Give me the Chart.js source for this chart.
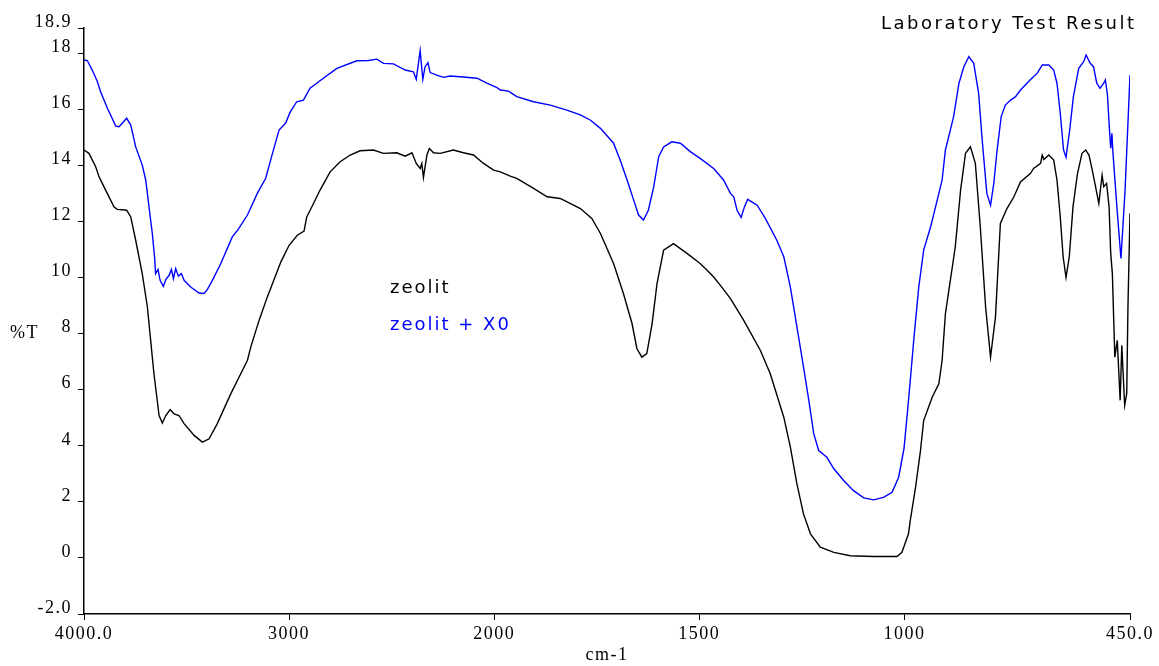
<!DOCTYPE html>
<html>
<head>
<meta charset="utf-8">
<title>Laboratory Test Result</title>
<script src="https://cdn.jsdelivr.net/npm/chart.js@4.4.0/dist/chart.umd.min.js"></script>
<style>
  html, body { margin: 0; padding: 0; background: #fff; }
  canvas { display: block; }
</style>
</head>
<body>
<canvas id="irChart" width="1159" height="666"></canvas>
<script>
// zeolit (black)
const zeolitWn = [4000,3976,3943,3927,3911,3854,3838,3792,3772,3748,
  3716,3691,3675,3659,3645,3634,3618,3601,3580,3561,
  3537,3512,3463,3423,3390,3350,3284,3252,3203,3187,
  3146,3106,3040,3000,2960,2927,2914,2881,2849,2800,
  2751,2702,2654,2589,2540,2475,2434,2401,2380,2361,
  2353,2345,2328,2316,2296,2263,2199,2150,2101,2052,
  2003,1985,1961,1945,1904,1871,1839,1790,1762,1741,
  1709,1685,1664,1652,1640,1628,1615,1603,1587,1563,
  1530,1498,1481,1465,1449,1424,1392,1351,1327,1294,
  1278,1262,1246,1229,1205,1172,1132,1075,1018,1006,
  990,986,973,961,953,932,916,908,900,888,
  876,863,851,839,827,815,802,790,778,766,
  750,733,717,693,685,668,664,660,648,636,
  628,620,613,606,598,589,578,567,558,550,
  542,534,526,518,514,507,501,497,493,487,
  481,474,470,463,458,455,450];
const zeolitT = [14.55,14.43,13.95,13.6,13.36,12.52,12.43,12.4,12.16,11.33,
  10.14,8.95,7.76,6.57,5.74,5.08,4.81,5.08,5.29,5.14,
  5.08,4.79,4.37,4.13,4.25,4.79,5.86,6.33,7.05,7.52,
  8.48,9.31,10.56,11.15,11.51,11.66,12.16,12.64,13.12,13.77,
  14.13,14.37,14.52,14.55,14.43,14.45,14.33,14.45,14.07,13.89,
  14.07,13.57,14.37,14.6,14.45,14.43,14.55,14.45,14.37,14.07,
  13.83,13.77,13.62,13.54,13.18,12.88,12.82,12.46,12.11,11.57,
  10.5,9.43,8.36,7.46,7.16,7.29,8.36,9.79,10.98,11.21,
  10.86,10.5,10.26,10.02,9.73,9.25,8.48,7.4,6.57,5.02,
  3.95,2.64,1.57,0.86,0.38,0.2,0.08,0.05,0.05,0.2,
  0.86,1.3,2.5,3.8,4.9,5.74,6.21,7.05,8.71,9.9,
  11.09,13.12,14.43,14.66,14.07,11.81,8.95,7.16,8.59,11.93,
  12.46,12.88,13.41,13.71,13.89,14.07,14.37,14.21,14.37,14.19,
  13.48,12.16,10.74,10.0,10.74,12.52,13.71,14.43,14.55,14.37,
  13.83,13.24,12.64,13.65,13.24,13.36,12.52,10.86,10.14,7.16,
  7.76,5.62,7.58,5.44,5.86,8.95,12.29];

// zeolit + X0 (blue)
const zeolitX0Wn = [4000,3984,3960,3935,3919,3886,3845,3829,3792,3772,
  3748,3716,3699,3683,3667,3656,3651,3639,3629,3613,
  3601,3585,3574,3564,3553,3540,3525,3512,3480,3439,
  3415,3399,3374,3333,3277,3249,3203,3155,3114,3081,
  3049,3016,2995,2963,2930,2898,2833,2767,2670,2613,
  2572,2540,2491,2434,2394,2380,2361,2348,2337,2323,
  2312,2280,2247,2215,2166,2084,2036,1993,1985,1965,
  1945,1904,1863,1823,1790,1766,1741,1709,1693,1676,
  1660,1648,1636,1624,1611,1599,1587,1567,1546,1522,
  1498,1465,1441,1424,1416,1408,1398,1390,1382,1372,
  1359,1339,1311,1294,1278,1262,1246,1233,1221,1209,
  1189,1172,1148,1124,1099,1075,1051,1030,1014,1001,
  990,977,965,953,936,920,908,900,888,880,
  867,855,843,831,819,811,799,790,782,774,
  764,754,741,729,717,693,676,664,648,636,
  628,620,612,606,597,588,575,563,557,547,
  539,531,523,514,510,505,500,497,494,492,
  482,472,462,450];
const zeolitX0T = [17.76,17.74,17.4,16.99,16.63,16.04,15.4,15.38,15.68,15.44,
  14.66,14.01,13.48,12.52,11.57,10.74,10.14,10.29,9.9,9.69,
  9.93,10.08,10.29,9.96,10.32,10.05,10.14,9.9,9.66,9.45,
  9.43,9.57,9.9,10.5,11.45,11.71,12.23,13.0,13.54,14.43,
  15.26,15.52,15.9,16.27,16.33,16.75,17.11,17.46,17.73,17.74,
  17.79,17.64,17.62,17.4,17.34,17.07,18.09,17.07,17.52,17.66,
  17.31,17.22,17.14,17.19,17.16,17.11,16.93,16.77,16.69,16.65,
  16.45,16.27,16.15,15.97,15.8,15.62,15.32,14.79,14.19,13.48,
  12.76,12.23,12.05,12.41,13.24,14.31,14.66,14.84,14.79,14.49,
  14.25,13.89,13.48,13.0,12.88,12.4,12.14,12.52,12.79,12.7,
  12.58,12.11,11.33,10.74,9.66,8.24,6.81,5.62,4.43,3.83,
  3.59,3.18,2.76,2.4,2.14,2.07,2.16,2.34,2.88,3.9,
  5.6,7.8,9.66,10.98,11.81,12.76,13.48,14.55,15.26,15.74,
  16.93,17.52,17.88,17.64,16.57,15.02,13.0,12.58,13.36,14.55,
  15.74,16.15,16.33,16.45,16.69,17.05,17.29,17.58,17.58,17.4,
  16.93,15.86,14.55,14.29,15.26,16.45,17.46,17.7,17.94,17.64,
  17.52,16.93,16.75,16.93,17.05,16.52,15.26,14.61,15.14,14.55,
  12.52,10.68,13.12,17.22];

const xTickValues = [4000, 3000, 2000, 1500, 1000, 450];
const xTickLabels = ['4000.0', '3000', '2000', '1500', '1000', '450.0'];
const yTickValues = [-2, 0, 2, 4, 6, 8, 10, 12, 14, 16, 18, 18.9];
const yTickLabels = ['-2.0', '0', '2', '4', '6', '8', '10', '12', '14', '16', '18', '18.9'];

// the spectrometer plot uses half scale above 2000 cm-1
function toPos(wn) {
  return wn >= 2000 ? (4000 - wn) / 2 : 1000 + (2000 - wn);
}

const serif = "'Liberation Serif', 'Times New Roman', serif";
const sans = "'DejaVu Sans', Verdana, sans-serif";

const textPlugin = {
  id: 'irText',
  beforeLayout(chart) { chart.ctx.letterSpacing = '1.5px'; },
  beforeDraw(chart) { chart.ctx.letterSpacing = '1.5px'; },
  afterDraw(chart) {
    const ctx = chart.ctx;
    ctx.save();
    ctx.textAlign = 'left';
    ctx.textBaseline = 'alphabetic';
    ctx.fillStyle = '#000';
    ctx.font = '18px ' + serif;
    ctx.letterSpacing = '1.5px';
    ctx.fillText('%T', 10, 338);
    ctx.font = '18px ' + sans;
    ctx.letterSpacing = '2.5px';
    ctx.fillText('Laboratory Test Result', 881, 29);
    ctx.letterSpacing = '2px';
    chart.data.datasets.forEach((ds, i) => {
      ctx.fillStyle = ds.borderColor;
      ctx.fillText(ds.label, 390, 293 + i * 37);
    });
    ctx.restore();
  }
};

const ctx = document.getElementById('irChart').getContext('2d');

new Chart(ctx, {
  type: 'line',
  data: {
    datasets: [{
      label: 'zeolit',
      data: zeolitWn.map((w, i) => ({ x: toPos(w), y: zeolitT[i] })),
      borderColor: '#000000',
      borderWidth: 1.4,
      pointRadius: 0,
      tension: 0
    }, {
      label: 'zeolit + X0',
      data: zeolitX0Wn.map((w, i) => ({ x: toPos(w), y: zeolitX0T[i] })),
      borderColor: '#0000ff',
      borderWidth: 1.4,
      pointRadius: 0,
      tension: 0
    }]
  },
  options: {
    responsive: false,
    animation: false,
    events: [],
    layout: { padding: { left: 0, top: 28, right: 29, bottom: 0 } },
    plugins: {
      legend: { display: false },
      tooltip: { enabled: false }
    },
    scales: {
      x: {
        type: 'linear',
        min: 0,
        max: toPos(450),
        afterBuildTicks: (scale) => { scale.ticks = xTickValues.map(w => ({ value: toPos(w) })); },
        afterFit: (scale) => { scale.height = 52; },
        ticks: {
          autoSkip: false,
          maxRotation: 0,
          padding: 3,
          color: '#000',
          font: { family: serif, size: 18 },
          callback: (v, i) => xTickLabels[i]
        },
        grid: { drawOnChartArea: false, color: '#000', lineWidth: 1, tickLength: 6 },
        border: { color: '#000', width: 1.5 },
        title: {
          display: true,
          text: 'cm-1',
          color: '#000',
          padding: 0,
          font: { family: serif, size: 18 }
        }
      },
      y: {
        min: -2,
        max: 18.9,
        afterBuildTicks: (scale) => { scale.ticks = yTickValues.map(v => ({ value: v })); },
        afterFit: (scale) => { scale.width = 84; },
        ticks: {
          autoSkip: false,
          padding: 6,
          labelOffset: -6,
          color: '#000',
          font: { family: serif, size: 18 },
          callback: (v, i) => yTickLabels[i]
        },
        grid: { drawOnChartArea: false, color: '#000', lineWidth: 1, tickLength: 6 },
        border: { color: '#000', width: 1.5 }
      }
    }
  },
  plugins: [textPlugin]
});
</script>
</body>
</html>
